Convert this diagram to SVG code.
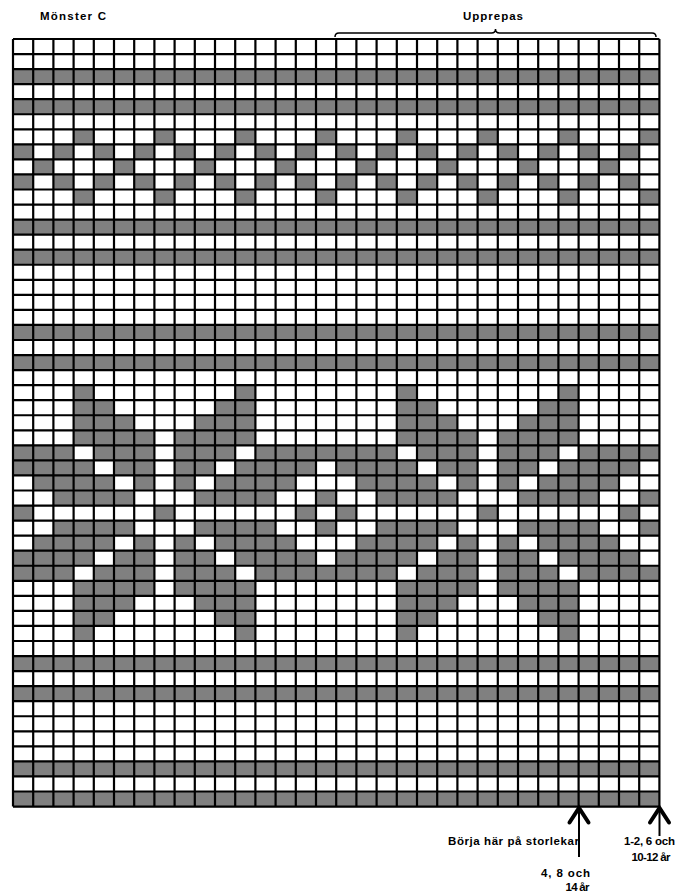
<svg xmlns="http://www.w3.org/2000/svg" xmlns:xlink="http://www.w3.org/1999/xlink" width="697" height="895" viewBox="0 0 697 895">
<style>
.lbl{font-family:"Liberation Sans",Arial,sans-serif;font-weight:bold;font-size:11.5px;fill:#000}
.g{fill:#808080}
.grid{fill:none;stroke:#000;stroke-width:2.2;vector-effect:non-scaling-stroke}
.arw{fill:none;stroke:#000;stroke-width:4;stroke-linecap:round;stroke-linejoin:miter}
.shaft{stroke:#000;stroke-width:2}
.brace{fill:none;stroke:#000;stroke-width:1.5}
</style>
<defs>
<g id="motif" class="g">
<rect x="3" y="0" width="1" height="1"/><rect x="11" y="0" width="1" height="1"/>
<rect x="3" y="1" width="2" height="1"/><rect x="10" y="1" width="2" height="1"/>
<rect x="3" y="2" width="3" height="1"/><rect x="9" y="2" width="3" height="1"/>
<rect x="3" y="3" width="4" height="1"/><rect x="8" y="3" width="4" height="1"/>
<rect x="0" y="4" width="3" height="1"/><rect x="4" y="4" width="3" height="1"/><rect x="8" y="4" width="3" height="1"/><rect x="12" y="4" width="4" height="1"/>
<rect x="0" y="5" width="4" height="1"/><rect x="5" y="5" width="2" height="1"/><rect x="8" y="5" width="2" height="1"/><rect x="11" y="5" width="4" height="1"/>
<rect x="1" y="6" width="4" height="1"/><rect x="6" y="6" width="1" height="1"/><rect x="8" y="6" width="1" height="1"/><rect x="10" y="6" width="4" height="1"/>
<rect x="2" y="7" width="4" height="1"/><rect x="9" y="7" width="4" height="1"/><rect x="15" y="7" width="1" height="1"/>
<rect x="0" y="8" width="1" height="1"/><rect x="7" y="8" width="1" height="1"/><rect x="14" y="8" width="1" height="1"/>
<rect x="2" y="9" width="4" height="1"/><rect x="9" y="9" width="4" height="1"/><rect x="15" y="9" width="1" height="1"/>
<rect x="1" y="10" width="4" height="1"/><rect x="6" y="10" width="1" height="1"/><rect x="8" y="10" width="1" height="1"/><rect x="10" y="10" width="4" height="1"/>
<rect x="0" y="11" width="4" height="1"/><rect x="5" y="11" width="2" height="1"/><rect x="8" y="11" width="2" height="1"/><rect x="11" y="11" width="4" height="1"/>
<rect x="0" y="12" width="3" height="1"/><rect x="4" y="12" width="3" height="1"/><rect x="8" y="12" width="3" height="1"/><rect x="12" y="12" width="4" height="1"/>
<rect x="3" y="13" width="4" height="1"/><rect x="8" y="13" width="4" height="1"/>
<rect x="3" y="14" width="3" height="1"/><rect x="9" y="14" width="3" height="1"/>
<rect x="3" y="15" width="2" height="1"/><rect x="10" y="15" width="2" height="1"/>
<rect x="3" y="16" width="1" height="1"/><rect x="11" y="16" width="1" height="1"/>
</g>
<g id="dots4" class="g">
<rect x="3" y="0" width="1" height="1"/>
<rect x="0" y="1" width="1" height="1"/><rect x="2" y="1" width="1" height="1"/>
<rect x="1" y="2" width="1" height="1"/>
<rect x="0" y="3" width="1" height="1"/><rect x="2" y="3" width="1" height="1"/>
<rect x="3" y="4" width="1" height="1"/>
</g>
</defs>
<rect width="697" height="895" fill="#fff"/>
<g id="chart" transform="translate(13,39) scale(20.2,15.05)">
<rect x="0" y="0" width="32" height="51" fill="#fff"/>
<g id="solid-rows" class="g">
<rect x="0" y="2" width="32" height="1"/>
<rect x="0" y="4" width="32" height="1"/>
<rect x="0" y="12" width="32" height="1"/>
<rect x="0" y="14" width="32" height="1"/>
<rect x="0" y="19" width="32" height="1"/>
<rect x="0" y="21" width="32" height="1"/>
<rect x="0" y="41" width="32" height="1"/>
<rect x="0" y="43" width="32" height="1"/>
<rect x="0" y="48" width="32" height="1"/>
<rect x="0" y="50" width="32" height="1"/>
</g>
<g id="small-band">
<use xlink:href="#dots4" x="0" y="6"/><use xlink:href="#dots4" x="4" y="6"/>
<use xlink:href="#dots4" x="8" y="6"/><use xlink:href="#dots4" x="12" y="6"/>
<use xlink:href="#dots4" x="16" y="6"/><use xlink:href="#dots4" x="20" y="6"/>
<use xlink:href="#dots4" x="24" y="6"/><use xlink:href="#dots4" x="28" y="6"/>
</g>
<g id="star-band">
<use xlink:href="#motif" x="0" y="23"/>
<use xlink:href="#motif" x="16" y="23"/>
</g>
<path class="grid" d="M0,0V51M1,0V51M2,0V51M3,0V51M4,0V51M5,0V51M6,0V51M7,0V51M8,0V51M9,0V51M10,0V51M11,0V51M12,0V51M13,0V51M14,0V51M15,0V51M16,0V51M17,0V51M18,0V51M19,0V51M20,0V51M21,0V51M22,0V51M23,0V51M24,0V51M25,0V51M26,0V51M27,0V51M28,0V51M29,0V51M30,0V51M31,0V51M32,0V51
M0,0H32M0,1H32M0,2H32M0,3H32M0,4H32M0,5H32M0,6H32M0,7H32M0,8H32M0,9H32M0,10H32M0,11H32M0,12H32M0,13H32M0,14H32M0,15H32M0,16H32M0,17H32M0,18H32M0,19H32M0,20H32M0,21H32M0,22H32M0,23H32M0,24H32M0,25H32M0,26H32M0,27H32M0,28H32M0,29H32M0,30H32M0,31H32M0,32H32M0,33H32M0,34H32M0,35H32M0,36H32M0,37H32M0,38H32M0,39H32M0,40H32M0,41H32M0,42H32M0,43H32M0,44H32M0,45H32M0,46H32M0,47H32M0,48H32M0,49H32M0,50H32M0,51H32"/>
</g>
<g id="title"><text class="lbl" x="40" y="20" textLength="66" lengthAdjust="spacing">Mönster C</text></g>
<g id="repeat">
<path class="brace" d="M335,37Q335,33 339,33L491.5,33Q495.5,33 495.5,29Q495.5,33 499.5,33L652,33Q656,33 656,37"/>
<text class="lbl" x="463" y="20" textLength="60" lengthAdjust="spacing">Upprepas</text>
</g>
<g id="connectors">
<line class="shaft" x1="579" y1="809" x2="579" y2="857"/>
<polyline class="arw" points="569.5,822.5 579,808 588.5,822.5"/>
<line class="shaft" x1="659.5" y1="809" x2="659.5" y2="836"/>
<polyline class="arw" points="650,822.5 659.5,808 669,822.5"/>
</g>
<g id="start-label"><text class="lbl" x="448" y="844.5" textLength="131" lengthAdjust="spacing">Börja här på storlekar</text></g>
<g id="size-a">
<text class="lbl" x="624" y="844.5" textLength="51" lengthAdjust="spacing">1-2, 6 och</text>
<text class="lbl" x="631.5" y="861" textLength="39" lengthAdjust="spacing">10-12 år</text>
</g>
<g id="size-b">
<text class="lbl" x="541" y="876.5" textLength="49" lengthAdjust="spacing">4, 8 och</text>
<text class="lbl" x="565.5" y="890.5" textLength="24" lengthAdjust="spacing">14 år</text>
</g>
</svg>
